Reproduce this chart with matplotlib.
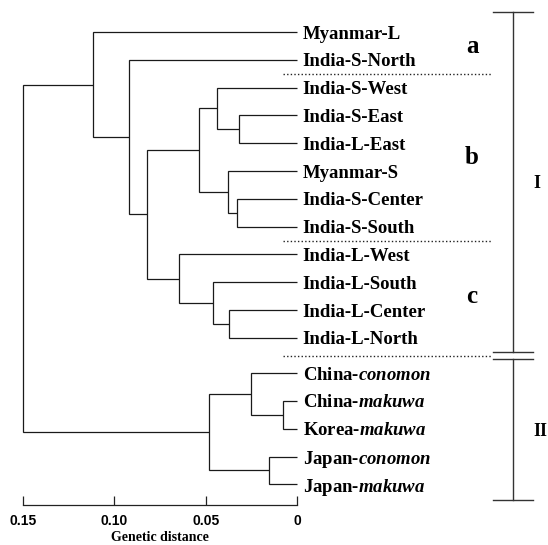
import matplotlib
matplotlib.use('Agg')
from matplotlib import pyplot as plt

plt.rcParams['mathtext.fontset'] = 'custom'
plt.rcParams['mathtext.it'] = 'Liberation Serif:italic:bold'
plt.rcParams['mathtext.rm'] = 'Liberation Serif:bold'

# leaves, top to bottom
leaves = ['Myanmar-L', 'India-S-North', 'India-S-West', 'India-S-East',
          'India-L-East', 'Myanmar-S', 'India-S-Center', 'India-S-South',
          'India-L-West', 'India-L-South', 'India-L-Center', 'India-L-North',
          r'China-$\mathit{conomon}$', r'China-$\mathit{makuwa}$',
          r'Korea-$\mathit{makuwa}$', r'Japan-$\mathit{conomon}$',
          r'Japan-$\mathit{makuwa}$']

# merges (linkage style): new node ids start at len(leaves)
merge_left = [3, 2, 6, 5, 18, 10, 9, 8, 21, 1, 0, 13, 12, 15, 29, 27]
merge_right = [4, 17, 7, 19, 20, 11, 22, 23, 24, 25, 26, 14, 28, 16, 30, 31]
merge_height = [0.032, 0.044, 0.0327, 0.0376, 0.0537, 0.037, 0.0458, 0.0646,
                0.082, 0.0918, 0.1115, 0.0075, 0.0254, 0.0152, 0.048, 0.150]

group_names = ['a', 'b', 'c']
group_first = [0, 2, 8]
group_last = [1, 7, 11]

cluster_names = ['I', 'II']
cluster_first = [0, 12]
cluster_last = [11, 16]

tick_vals = [0.15, 0.10, 0.05, 0.0]
tick_labels = ['0.15', '0.10', '0.05', '0']

fig = plt.figure(figsize=(5.48, 5.45), dpi=100)
ax = fig.add_axes([0, 0, 1, 1])
ax.set_xlim(0.1626, -0.1374)
ax.set_ylim(18.45, -1.151)

line_c = '#1a1a1a'
# leaf y positions (cluster II slightly separated)
node_y = [i + (0.27 if i >= 12 else 0.0) for i in range(len(leaves))]
node_h = [0.0] * len(leaves)
for a, b, h in zip(merge_left, merge_right, merge_height):
    ya, yb = node_y[a], node_y[b]
    ax.plot([node_h[a], h, h, node_h[b]], [ya, ya, yb, yb], color=line_c,
            lw=0.9, solid_joinstyle='miter', solid_capstyle='butt')
    node_y.append((ya + yb) / 2)
    node_h.append(h)

for i, name in enumerate(leaves):
    ax.text(-0.0031, node_y[i], name, ha='left', va='center_baseline',
            fontsize=13.5, fontweight='bold', family='Liberation Serif')

# dotted separators between groups
seps = [(node_y[1] + node_y[2]) / 2, (node_y[7] + node_y[8]) / 2,
        (node_y[11] + node_y[12]) / 2]
for s in seps:
    ax.plot([0.0078, -0.1066], [s, s], color='#222222', lw=1.0,
            linestyle=(0, (1, 1.6)))

for name, f, l in zip(group_names, group_first, group_last):
    ax.text(-0.0958, (node_y[f] + node_y[l]) / 2 - 0.06, name, ha='center',
            va='center_baseline', fontsize=18, fontweight='bold',
            family='Liberation Serif')

# cluster brackets
sep = seps[2]
bx, cap0, cap1 = -0.1182, -0.1073, -0.1292
spans = [(node_y[0] - 0.73, sep - 0.125), (sep + 0.125, node_y[16] + 0.57)]
for name, (y0, y1) in zip(cluster_names, spans):
    ax.plot([bx, bx], [y0, y1], color='#333333', lw=1.0)
    for y in (y0, y1):
        ax.plot([cap0, cap1], [y, y], color='#333333', lw=1.0)
    ax.text(cap1, (y0 + y1) / 2, name, ha='left', va='center_baseline',
            fontsize=13, fontweight='bold', family='Liberation Serif')

# distance axis
for side in ['top', 'left', 'right']:
    ax.spines[side].set_visible(False)
ax.spines['bottom'].set_position(('data', 17.01))
ax.spines['bottom'].set_bounds(0.15, 0.0)
ax.spines['bottom'].set_linewidth(0.9)
ax.spines['bottom'].set_color('#222222')
ax.set_yticks([])
ax.set_xticks(tick_vals, tick_labels)
ax.tick_params(axis='x', direction='in', length=6.5, width=0.9, pad=6.5,
               colors='#222222', labelcolor='black')
for t in ax.get_xticklabels():
    t.set_fontfamily('Liberation Sans')
    t.set_fontweight('bold')
    t.set_fontsize(10)
ax.set_xlabel('Genetic distance', fontsize=10, fontweight='bold',
              family='Liberation Serif', va='top')
ax.xaxis.set_label_coords(0.075, 17.95, transform=ax.transData)
ax.patch.set_visible(False)

fig.savefig('out.png', dpi=100)
